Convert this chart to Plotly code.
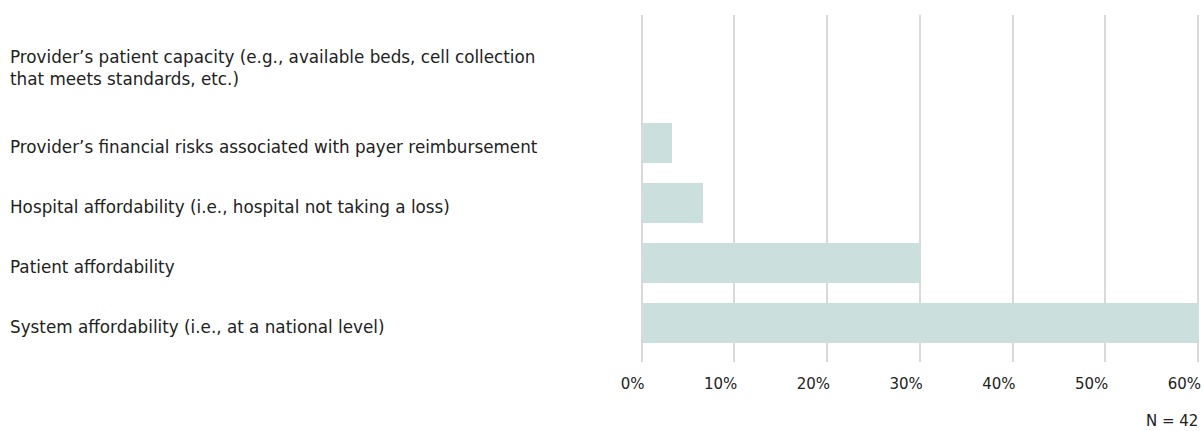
import plotly.graph_objects as go

# Survey responses, share of respondents (N = 42)
categories = [
    "Provider’s patient capacity (e.g., available beds, cell collection<br>that meets standards, etc.)",
    "Provider’s financial risks associated with payer reimbursement",
    "Hospital affordability (i.e., hospital not taking a loss)",
    "Patient affordability",
    "System affordability (i.e., at a national level)",
]
shares = [0.0, 3.33, 6.67, 30.0, 60.0]
tick_values = [0, 10, 20, 30, 40, 50, 60]
tick_labels = ["0%", "10%", "20%", "30%", "40%", "50%", "60%"]
sample_note = "N = 42"

FONT = "DejaVu Sans"
TEXT = "#222222"
BAR = "#cbe0dc"
GRID = "#d9d9d9"

positions = list(range(len(categories)))

fig = go.Figure(
    go.Bar(
        x=shares,
        y=positions,
        orientation="h",
        width=0.667,
        marker=dict(color=BAR, line=dict(width=0)),
        hoverinfo="skip",
    )
)

# Category labels, left-aligned at the far left of the canvas
for pos, label in zip(positions, categories):
    fig.add_annotation(
        x=0, xref="paper", xanchor="left",
        y=pos, yref="y", yanchor="middle",
        xshift=-628,
        yshift=-4 if "<br>" not in label else 15,
        text=label, showarrow=False, align="left",
        font=dict(family=FONT, size=16.8, color=TEXT),
    )

fig.add_annotation(
    x=60, xref="x", xanchor="right",
    y=0, yref="paper", yanchor="middle",
    xshift=2, yshift=-59,
    text=sample_note, showarrow=False,
    font=dict(family=FONT, size=15, color=TEXT),
)

fig.update_layout(
    width=1203, height=431,
    margin=dict(l=636, r=0, t=15, b=69),
    paper_bgcolor="white", plot_bgcolor="white",
    showlegend=False,
    bargap=0,
    xaxis=dict(
        range=[-0.593, 60.539],
        tickvals=tick_values, ticktext=tick_labels,
        showgrid=True, gridcolor=GRID, gridwidth=2,
        zeroline=False, showline=False,
        ticks="", ticklabelposition="outside left",
        ticklabelshift=3, ticklabelstandoff=11,
        tickfont=dict(family=FONT, size=15, color=TEXT),
        fixedrange=True,
    ),
    yaxis=dict(
        range=[4.658, -1.125],
        showticklabels=False, showgrid=False,
        zeroline=False, showline=False, ticks="",
        fixedrange=True,
    ),
)

fig.write_html("out.html")
